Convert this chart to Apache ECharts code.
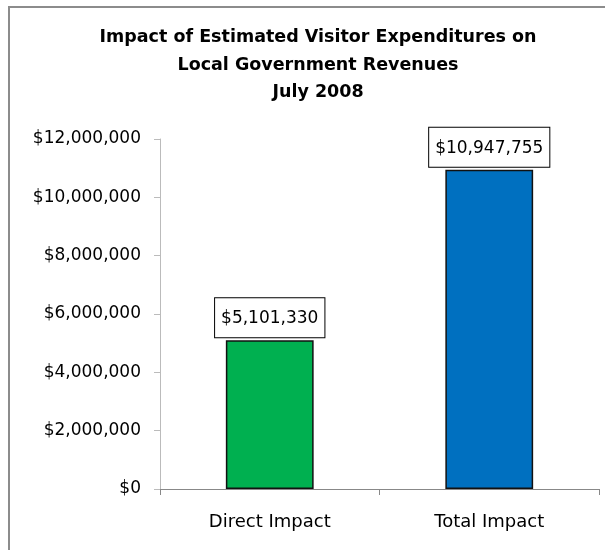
<!DOCTYPE html>
<html><head><meta charset="utf-8">
<script src="https://cdn.jsdelivr.net/npm/echarts@6/dist/echarts.min.js"></script>
<style>html,body{margin:0;padding:0;background:#fff}#c{width:605px;height:550px}</style>
</head><body><div id="c"></div>
<script>
const categories = ["Direct Impact", "Total Impact"];
const values = [5101330, 10947755];
const barColors = ["#00B050", "#0070C0"];
const titleLines = ["Impact of Estimated Visitor Expenditures on", "Local Government Revenues", "July 2008"];

function money(v){ return "$" + Math.round(v).toString().replace(/\B(?=(\d{3})+(?!\d))/g, ","); }

const F = '"DejaVu Sans", sans-serif';
const chart = echarts.init(document.getElementById('c'));
chart.setOption({
  animation: false,
  backgroundColor: '#fff',
  graphic: [
    {type:'rect', shape:{x:9, y:7, width:610, height:560}, style:{fill:'none', stroke:'#8c8c8c', lineWidth:2}},
    {type:'text', x:318, y:24, style:{text: titleLines.join('\n'), align:'center', verticalAlign:'top',
      font: 'bold 17.5px "DejaVu Sans", sans-serif', lineHeight: 27.5, fill:'#000'}}
  ],
  grid: {left: 160, right: 6, top: 139, bottom: 61},
  xAxis: {
    type: 'category', data: categories,
    axisLine: {lineStyle: {color: '#888'}},
    axisTick: {show: true, length: 6, lineStyle: {color: '#888'}},
    axisLabel: {fontFamily: F, fontSize: 18, color: '#000', margin: 24}
  },
  yAxis: {
    type: 'value', min: 0, max: 12000000, interval: 2000000,
    axisLine: {show: true, lineStyle: {color: '#bbb'}},
    axisTick: {show: true, length: 6, lineStyle: {color: '#bbb'}},
    splitLine: {show: false},
    axisLabel: {fontFamily: F, fontSize: 17, color: '#000', margin: 19, formatter: money}
  },
  series: [{
    type: 'bar', barWidth: '40%',
    data: values.map((v,i) => ({value: v, itemStyle: {color: barColors[i]}})),
    itemStyle: {borderColor: '#111', borderWidth: 1.5},
    label: {
      show: true, position: 'top', distance: 3,
      formatter: p => money(p.value),
      fontFamily: F, fontSize: 17, color: '#000',
      backgroundColor: '#fff', borderColor: '#000', borderWidth: 1, padding: [12, 6, 10, 6]
    }
  }]
});
</script></body></html>
